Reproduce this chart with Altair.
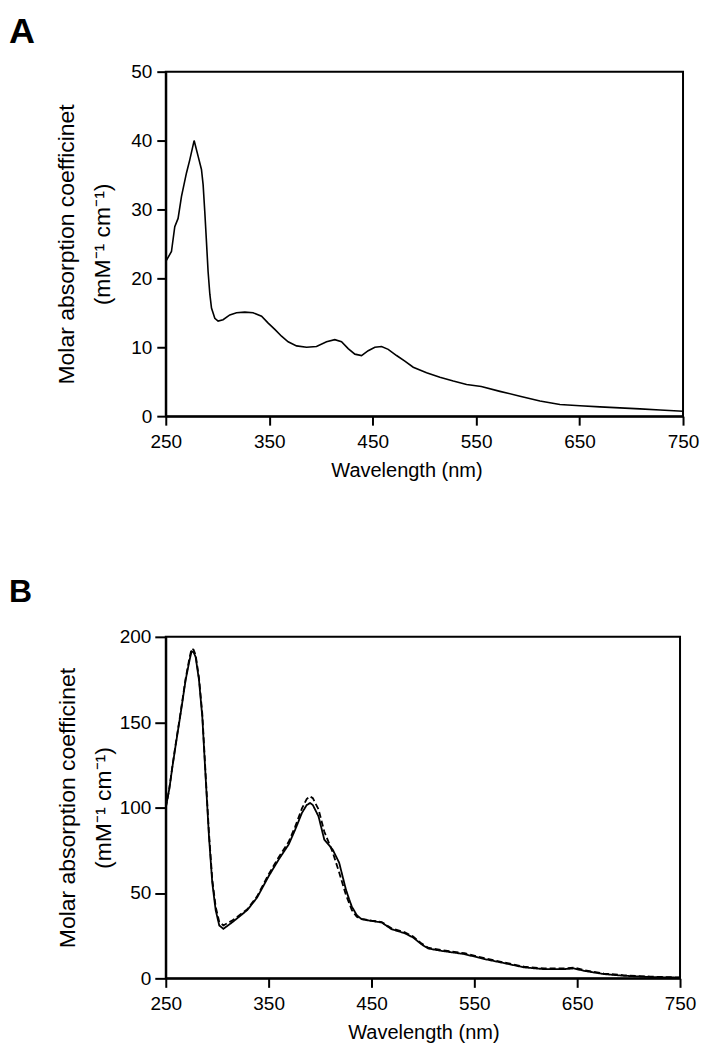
import altair as alt
import pandas as pd

FONT = "Liberation Sans"

# Panel A: single spectrum
wl_a = [250.6, 255.5, 258.7, 261.9, 265.2, 270.0, 273.2, 277.4, 281.3, 284.5, 286.1, 287.7,
        289.3, 290.9, 292.6, 294.2, 297.4, 300.6, 305.4, 311.9, 318.4, 326.4, 334.4, 342.6,
        349.0, 355.4, 361.9, 368.3, 376.4, 386.1, 395.7, 405.4, 413.4, 419.9, 426.3, 432.8,
        439.2, 445.7, 452.1, 458.6, 465.0, 473.1, 481.1, 489.2, 502.1, 515.0, 527.9, 540.8,
        555.0, 573.0, 592.4, 611.7, 631.0, 650.4, 669.7, 689.0, 708.4, 727.8, 750.0]
abs_a = [22.6, 23.9, 27.5, 28.7, 31.9, 35.3, 37.2, 40.0, 37.7, 35.8, 33.6, 29.7,
         25.4, 21.0, 17.7, 15.7, 14.2, 13.8, 14.0, 14.7, 15.0, 15.1, 15.0, 14.5,
         13.5, 12.6, 11.6, 10.8, 10.2, 10.0, 10.1, 10.8, 11.1, 10.8, 9.8, 9.0,
         8.8, 9.5, 10.0, 10.1, 9.7, 8.8, 8.0, 7.1, 6.3, 5.65, 5.1, 4.6,
         4.3, 3.6, 2.9, 2.2, 1.7, 1.5, 1.35, 1.2, 1.06, 0.9, 0.72]

# Panel B: two spectra (solid and dashed)
wl_b = [250.0, 253.3, 256.5, 259.7, 264.5, 269.3, 273.0, 275.1, 277.0, 279.0, 282.3, 285.5,
        288.7, 292.0, 295.2, 298.5, 302.0, 306.0, 315.0, 329.3, 338.8, 350.1, 359.8, 369.5,
        375.9, 382.4, 387.0, 390.4, 393.0, 398.5, 404.1, 412.2, 418.6, 425.1, 428.3, 430.9,
        435.7, 440.5, 450.2, 459.9, 469.5, 482.4, 490.5, 498.5, 505.0, 517.9, 540.4, 559.8,
        579.2, 598.5, 617.9, 637.2, 646.9, 656.6, 676.0, 695.3, 721.2, 750.0]
b_solid = [100.0, 110.5, 124.0, 136.8, 155.3, 174.7, 186.0, 191.5, 191.0, 188.3, 174.7, 153.3,
           118.3, 83.2, 56.0, 40.0, 31.0, 29.0, 33.0, 40.0, 47.3, 59.9, 69.6, 78.4,
           87.2, 96.9, 101.5, 102.7, 101.5, 94.9, 81.3, 75.5, 67.7, 52.1, 46.3, 42.0,
           37.0, 34.6, 33.6, 32.7, 28.8, 26.4, 23.9, 20.0, 17.5, 16.1, 14.2, 11.3,
           8.9, 6.4, 5.4, 5.4, 5.8, 4.4, 2.5, 1.5, 0.8, 0.4]
b_dashed = [100.0, 110.5, 124.5, 137.5, 156.0, 175.5, 187.5, 193.0, 192.5, 189.5, 176.0, 155.0,
            120.0, 85.0, 58.0, 42.0, 33.0, 31.0, 34.0, 40.5, 48.0, 61.0, 71.0, 80.0,
            89.0, 99.5, 105.0, 106.6, 105.5, 99.0, 86.0, 74.0, 62.0, 49.0, 44.0, 40.0,
            36.0, 34.8, 33.8, 33.0, 29.3, 27.0, 24.5, 20.5, 18.0, 16.6, 14.7, 11.8,
            9.3, 6.8, 5.8, 5.8, 6.3, 4.8, 2.8, 1.8, 1.0, 0.5]

x_ticks = [250, 350, 450, 550, 650, 750]
y_ticks_a = [0, 10, 20, 30, 40, 50]
y_ticks_b = [0, 50, 100, 150, 200]
y_title = ["Molar absorption coefficinet", "(mM\u207b\u00b9 cm\u207b\u00b9)"]

df_a = pd.DataFrame({"wl": wl_a, "val": abs_a})
df_b = pd.concat([
    pd.DataFrame({"wl": wl_b, "val": b_solid, "series": "solid"}),
    pd.DataFrame({"wl": wl_b, "val": b_dashed, "series": "dashed"}),
])

axis_common = dict(domainColor="black", domainWidth=2, tickColor="black", tickWidth=2,
                   labelColor="black", titleColor="black", labelFont=FONT, titleFont=FONT,
                   labelFontSize=19, titleFontWeight="normal", grid=False,
                   labelFlush=False, labelOverlap=False)


def x_enc(title_x):
    return alt.X("wl:Q", scale=alt.Scale(domain=[250, 750], nice=False, zero=False),
                 axis=alt.Axis(values=x_ticks, title="Wavelength (nm)", tickSize=9,
                               labelPadding=7, titleFontSize=20, titlePadding=9,
                               titleX=title_x, titleAlign="center", **axis_common))


def y_enc(dom, ticks, tsize, lpad, tpad):
    return alt.Y("val:Q", scale=alt.Scale(domain=dom, nice=False, zero=False),
                 axis=alt.Axis(values=ticks, title=y_title, tickSize=tsize, labelPadding=lpad,
                               titleFontSize=23, titlePadding=tpad, titleLineHeight=36,
                               **axis_common))


def letter(t, size, dx, dy):
    return alt.Chart(pd.DataFrame({"lab": [t]})).mark_text(
        font=FONT, fontSize=size, fontWeight="bold", align="left", baseline="alphabetic",
        color="black").encode(text="lab:N", x=alt.value(dx), y=alt.value(dy))


line_a = alt.Chart(df_a).mark_line(color="black", strokeWidth=1.6).encode(
    x=x_enc(241), y=y_enc([0, 50], y_ticks_a, 9, 5, 16))
panel_a = alt.layer(line_a, letter("A", 36, -157, -29)).properties(width=518, height=345)

line_b = alt.Chart(df_b).mark_line(color="black", strokeWidth=1.8).encode(
    x=x_enc(258), y=y_enc([0, 200], y_ticks_b, 11, 4, 4),
    strokeDash=alt.StrokeDash("series:N", scale=alt.Scale(domain=["solid", "dashed"],
                                                         range=[[1, 0], [6, 3]]), legend=None),
    detail="series:N")
panel_b = alt.layer(line_b, letter("B", 32, -157, -35)).properties(width=515, height=342)

chart = alt.vconcat(panel_a, panel_b, spacing=94).properties(
    padding={"left": 0, "top": 4, "right": 0, "bottom": 0},
    background="white",
).configure_view(stroke="black", strokeWidth=2)

chart.save("out.html", embed_options={"renderer": "svg", "actions": False})
